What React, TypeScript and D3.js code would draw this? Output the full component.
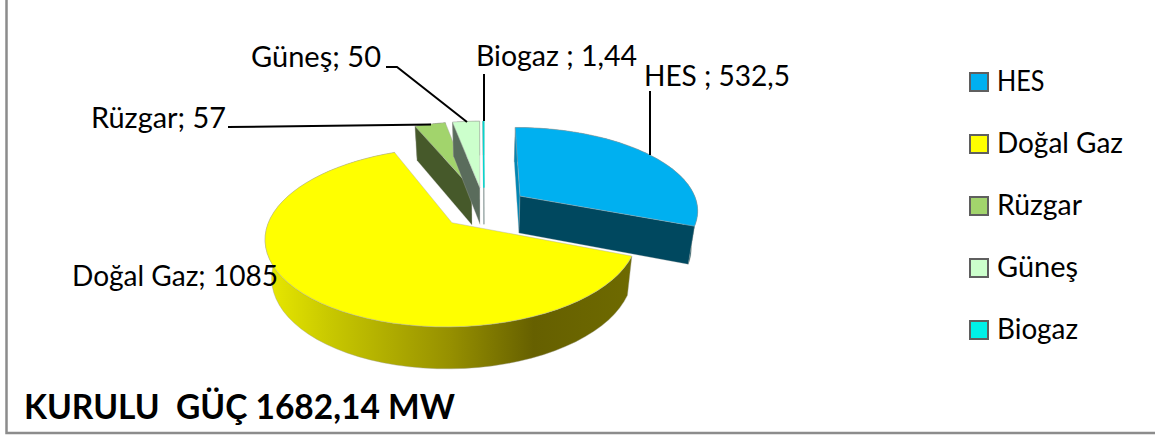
import React from "react";
import * as d3 from "d3";

// Installed capacity by source (MW)
const categories = ["HES", "Doğal Gaz", "Rüzgar", "Güneş", "Biogaz"];
const capacities = [532.5, 1085, 57, 50, 1.44];
const dataLabels = ["HES ; 532,5", "Doğal Gaz; 1085", "Rüzgar; 57", "Güneş; 50", "Biogaz ; 1,44"];
const topColors = ["#00b0f0", "#ffff00", "#a2d46c", "#ccffcc", "#00d8d0"];
const sideColors = ["#00485f", "#6a6600", "#46592a", "#5a6c5c", "#8fa3a2"];
const startColors = ["#0086b4", "#6a6600", "#46592a", "#5a6c5c", "#8fa3a2"];
const chartTitle = "KURULU  GÜÇ 1682,14 MW";

const FONT = "Lato, Carlito, Calibri, sans-serif";
const CX = 484, CY = 207.5, RX = 178.5, RY = 82.6, PERSPECTIVE = 0.156, EXPLODE = 0.25;

// Perspective projection of a point on the pie's plane; lift = 1 puts it on the lower face.
function project(px: number, py: number, lift = 0): [number, number] {
  const s = 1 / (1 + PERSPECTIVE * py);
  const x = CX + RX * px * s;
  const y = CY - RY * py * s;
  const depth = 17 + 20.4 * s;
  return [CX + (x - CX) * (1 - 0.03 * lift), y + depth * lift];
}

const pieLayout = d3.pie<number>().sort(null).startAngle(0).endAngle(2 * Math.PI);
const arcs = pieLayout(capacities);
const pathOf = d3.line();

function sliceGeometry(start: number, end: number) {
  const mid = (start + end) / 2;
  const ox = EXPLODE * Math.sin(mid);
  const oy = EXPLODE * Math.cos(mid);
  const rim = d3.range(0, 61).map((i) => {
    const a = start + ((end - start) * i) / 60;
    return [ox + Math.sin(a), oy + Math.cos(a)] as [number, number];
  });
  const rimTop = rim.map(([x, y]) => project(x, y, 0));
  const rimBottom = rim.map(([x, y]) => project(x, y, 1));
  const apexTop = project(ox, oy, 0);
  const apexBottom = project(ox, oy, 1);
  return { rimTop, rimBottom, apexTop, apexBottom };
}

// Back slices first so that the nearer ones overlap them.
const paintOrder = [2, 3, 4, 0, 1];

const legendY = d3.scalePoint<string>().domain(categories).range([82, 330]);
const legendWidths = [47.5, 126, 85, 81, 81];

export default function App() {
  return (
    <svg
      width={1155}
      height={437}
      style={{ position: "absolute", left: 0, top: 0, display: "block", background: "#fff" }}
    >
      <defs>
        <linearGradient id="wall-gas" gradientUnits="userSpaceOnUse" x1={268} x2={632} y1={0} y2={0}>
          <stop offset="0" stopColor="#e8e800" />
          <stop offset="0.17" stopColor="#c8c800" />
          <stop offset="0.5" stopColor="#969000" />
          <stop offset="0.73" stopColor="#666000" />
          <stop offset="1" stopColor="#6e6a00" />
        </linearGradient>
      </defs>

      <path d="M6.5,0 V433 H1155" fill="none" stroke="#8c8c8c" strokeWidth={2.5} />

      {paintOrder.map((i) => {
        const g = sliceGeometry(arcs[i].startAngle, arcs[i].endAngle);
        const first = g.rimTop[0];
        const last = g.rimTop[g.rimTop.length - 1];
        const wallFill = i === 1 ? "url(#wall-gas)" : sideColors[i];
        const thin = i === 4;
        return (
          <g key={categories[i]}>
            <path
              d={pathOf([...g.rimTop, ...[...g.rimBottom].reverse()])! + "Z"}
              fill={wallFill}
              stroke="#a0a090"
              strokeWidth={0.4}
            />
            {first[0] < g.apexTop[0] && (
              <path
                d={pathOf([g.apexTop, first, g.rimBottom[0], g.apexBottom])! + "Z"}
                fill={startColors[i]}
                stroke={thin ? "#9db0af" : "#b5b5b5"}
                strokeWidth={thin ? 1 : 0.3}
              />
            )}
            {last[0] > g.apexTop[0] && (
              <path
                d={pathOf([g.apexTop, last, g.rimBottom[g.rimBottom.length - 1], g.apexBottom])! + "Z"}
                fill={sideColors[i]}
                stroke="#b5b5b5"
                strokeWidth={0.3}
              />
            )}
            <path
              d={pathOf([g.apexTop, ...g.rimTop])! + "Z"}
              fill={topColors[i]}
              stroke={thin ? topColors[i] : "#a8a8a8"}
              strokeOpacity={thin ? 1 : 0.7}
              strokeWidth={thin ? 1 : 0.6}
            />
          </g>
        );
      })}

      {/* Leader lines */}
      <g fill="none" stroke="#000" strokeWidth={2}>
        <path d="M650,91 V155" />
        <path d="M228,127 L431,124.5" />
        <path d="M386,67 H397 L467,122" />
        <path d="M484,74 V121" />
      </g>

      {/* Data labels */}
      <g fontFamily={FONT} fontSize={28.5} fill="#000" lengthAdjust="spacingAndGlyphs">
        <text x={644} y={86} textLength={146} lengthAdjust="spacingAndGlyphs">{dataLabels[0]}</text>
        <text x={72} y={286} textLength={206} lengthAdjust="spacingAndGlyphs">{dataLabels[1]}</text>
        <text x={91} y={128} textLength={135} lengthAdjust="spacingAndGlyphs">{dataLabels[2]}</text>
        <text x={251} y={67} textLength={130} lengthAdjust="spacingAndGlyphs">{dataLabels[3]}</text>
        <text x={476} y={66} textLength={161} lengthAdjust="spacingAndGlyphs">{dataLabels[4]}</text>
      </g>

      {/* Legend */}
      {categories.map((c, i) => (
        <g key={c}>
          <rect
            x={970}
            y={legendY(c)! - 9}
            width={18}
            height={18}
            fill={topColors[i] === "#00d8d0" ? "#00f0e8" : topColors[i]}
            stroke="#5f5f5f"
            strokeWidth={2}
          />
          <text
            x={997}
            y={legendY(c)! + 9}
            fontFamily={FONT}
            fontSize={28.5}
            fill="#000"
            textLength={legendWidths[i]}
            lengthAdjust="spacingAndGlyphs"
          >
            {c}
          </text>
        </g>
      ))}

      <text
        x={24}
        y={419}
        fontFamily={FONT}
        fontSize={33.5}
        fontWeight={700}
        fill="#000"
        xmlSpace="preserve"
        textLength={431}
        lengthAdjust="spacingAndGlyphs"
      >
        {chartTitle}
      </text>
    </svg>
  );
}
